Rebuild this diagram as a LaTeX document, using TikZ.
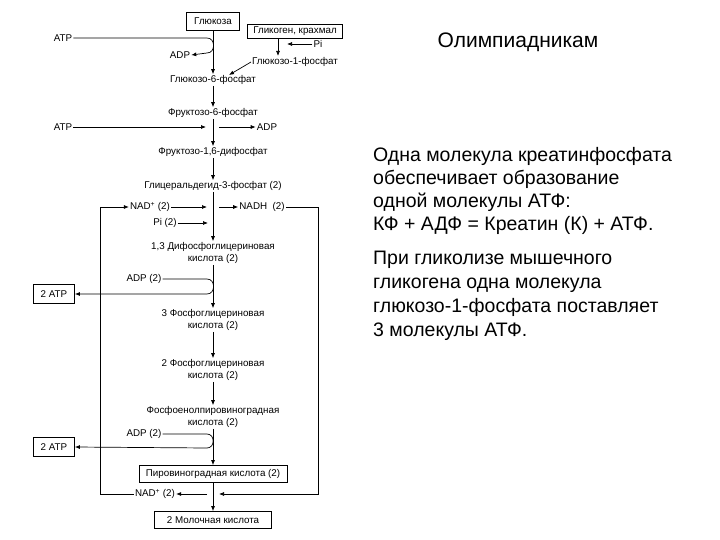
\documentclass[tikz,border=0pt]{standalone}
\usepackage{fontspec}
\setmainfont{Liberation Sans}
\usetikzlibrary{arrows.meta}
\begin{document}
\begin{tikzpicture}[x=1pt,y=-1pt,
  lbl/.style={font=\fontsize{9.8}{12}\selectfont,inner sep=1pt,align=center},
  bx/.style={lbl,draw,line width=0.8pt,inner sep=3pt},
  ar/.style={-{Latex[length=5pt,width=4pt]},line width=0.7pt},
  ln/.style={line width=0.7pt}]
\useasboundingbox (0,0) rectangle (720,540);
% nodes
\node[bx,minimum width=53,minimum height=18,inner sep=1pt] (glu) at (213,21) {Глюкоза};
\node[bx,minimum width=95,minimum height=14,inner sep=1pt] (gly) at (295,31) {Гликоген, крахмал};
\node[lbl] (atp1) at (63,38) {ATP};
\node[lbl] (adp1) at (180,55) {ADP};
\node[lbl] (pi1) at (318,44) {Pi};
\node[lbl] (g1p) at (295,62) {Глюкозо-1-фосфат};
\node[lbl] (g6p) at (213,80) {Глюкозо-6-фосфат};
\node[lbl] (f6p) at (213,113) {Фруктозо-6-фосфат};
\node[lbl] (atp2) at (63,127) {ATP};
\node[lbl] (adp2) at (267,127) {ADP};
\node[lbl] (f16) at (213,152) {Фруктозо-1,6-дифосфат};
\node[lbl] (gap) at (213,186) {Глицеральдегид-3-фосфат (2)};
\node[lbl] (nad1) at (150,207) {NAD\textsuperscript{+} (2)};
\node[lbl] (nadh) at (262,207) {NADH\ \ (2)};
\node[lbl] (pi2) at (165,223) {Pi (2)};
\node[lbl] (bpg) at (213,253) {1,3 Дифосфоглицериновая\\кислота (2)};
\node[lbl] (adp3) at (144,279) {ADP (2)};
\node[bx,minimum width=41,minimum height=19,inner sep=1pt] (atp3) at (54,294) {2 ATP};
\node[lbl] (pg3) at (213,320) {3 Фосфоглицериновая\\кислота (2)};
\node[lbl] (pg2) at (213,370) {2 Фосфоглицериновая\\кислота (2)};
\node[lbl] (pep) at (213,417) {Фосфоенолпировиноградная\\кислота (2)};
\node[lbl] (adp4) at (144,434) {ADP (2)};
\node[bx,minimum width=41,minimum height=19,inner sep=1pt] (atp4) at (54,447) {2 ATP};
\node[bx,minimum width=148,minimum height=17,inner sep=1pt] (pyr) at (213,474) {Пировиноградная кислота (2)};
\node[lbl] (nad2) at (155,494) {NAD\textsuperscript{+} (2)};
\node[bx,minimum width=117,minimum height=17,inner sep=1pt] (lac) at (213,520) {2 Молочная кислота};
% right text
\node[font=\fontsize{21}{24}\selectfont] (title) at (518,42) {Олимпиадникам};
\node[font=\fontsize{19.5}{23}\selectfont,align=left,anchor=north west,inner sep=0] (t1) at (373,147) {Одна молекула креатинфосфата\\обеспечивает образование\\одной молекулы АТФ:\\КФ + АДФ = Креатин (К) + АТФ.};
\node[font=\fontsize{19.5}{24}\selectfont,align=left,anchor=north west,inner sep=0] (t2) at (373,251) {При гликолизе мышечного\\гликогена одна молекула\\глюкозо-1-фосфата поставляет\\3 молекулы АТФ.};
% main axis
\draw[ar] (glu.south) -- (g6p.north);
\draw[ar] (g6p.south) -- (f6p.north);
\draw[ar] (f6p.south) -- (f16.north);
\draw[ar] (f16.south) -- (gap.north);
\draw[ar] (gap.south) -- (bpg.north);
\draw[ar] (bpg.south) -- (pg3.north);
\draw[ar] (pg3.south) -- (pg2.north);
\draw[ar] (pg2.south) -- (pep.north);
\draw[ar] (pep.south) -- (pyr.north);
\draw[ar] (pyr.south) -- (lac.north);
% side reactions
\draw[ar] (atp1.east) -- (207,38) to[out=0,in=0,looseness=1.5] (207,53) -- (adp1.east);
\draw[ar] (gly.south -| 278,0) -- (278,56);
\draw[ar] (pi1.west) -- (287,44);
\draw[ar] (g1p.west) -- (229,75);
\draw[ar] (atp2.east) -- (206,127);
\draw[ar] (219,127) -- (adp2.west);
\draw[ar] (nad1.east) -- (207,207);
\draw[ar] (219,207) -- (nadh.west);
\draw[ar] (pi2.east) -- (208,223);
\draw[ar] (adp3.east) -- (207,279) to[out=0,in=0,looseness=1.5] (207,294) -- (atp3.east);
\draw[ar] (adp4.east) -- (207,434) to[out=0,in=0,looseness=1.5] (207,448) -- (atp4.east);
\draw[ar] (nadh.east) -- (318,207) -- (318,494) -- (219,494);
\draw[ar] (207,494) -- (nad2.east);
\draw[ar] (nad2.west) -- (100,494) -- (100,207) -- (nad1.west);
\end{tikzpicture}
\end{document}
